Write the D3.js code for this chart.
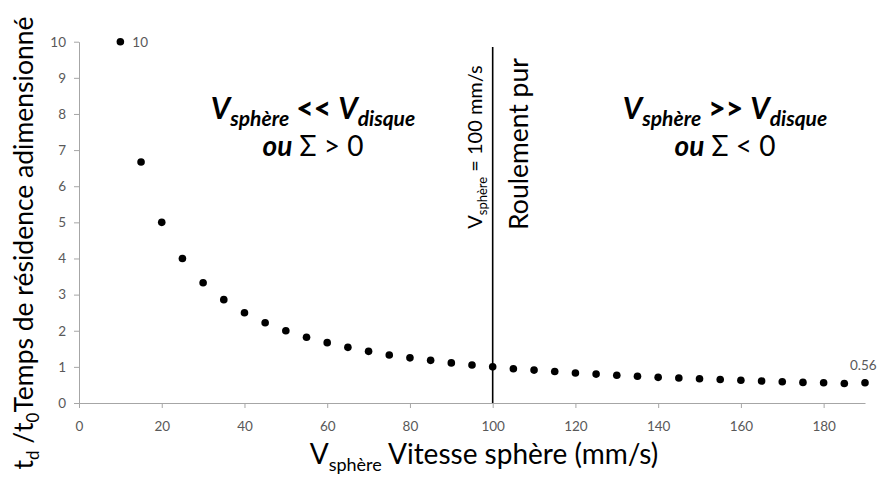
<!DOCTYPE html>
<html><head><meta charset="utf-8">
<script src="https://cdn.jsdelivr.net/npm/d3@7"></script>
<style>body{margin:0;background:#fff}svg{display:block}</style>
</head><body>
<div id="chart"></div>
<script>
const speeds = [10,15,20,25,30,35,40,45,50,55,60,65,70,75,80,85,90,95,100,105,110,115,120,125,130,135,140,145,150,155,160,165,170,175,180,185,190];
const times = [10,6.67,5,4,3.33,2.86,2.5,2.22,2,1.82,1.67,1.54,1.43,1.33,1.25,1.18,1.11,1.05,1,0.95,0.91,0.87,0.83,0.8,0.77,0.74,0.71,0.69,0.67,0.65,0.63,0.61,0.59,0.57,0.56,0.54,0.56];
const xTicks = [0,20,40,60,80,100,120,140,160,180];
const yTicks = [0,1,2,3,4,5,6,7,8,9,10];
const pointLabels = [{i:0,text:"10"},{i:36,text:"0.56"}];
const markerSpeed = 100;

const W = 877, H = 484;
const FONT = "Lato, 'Open Sans', sans-serif";
const svg = d3.select("#chart").append("svg").attr("width", W).attr("height", H);

const x = d3.scaleLinear().domain([0,190]).range([79,865]);
const y = d3.scaleLinear().domain([0,10]).range([403,41.7]);

const axisColor = "#a6a6a6", labelColor = "#595959";

const gx = svg.append("g").attr("transform", `translate(0,${y(0)})`)
  .call(d3.axisBottom(x).tickValues(xTicks).tickSize(5).tickPadding(13).tickSizeOuter(0));
const gy = svg.append("g").attr("transform", `translate(${x(0)},0)`)
  .call(d3.axisLeft(y).tickValues(yTicks).tickSize(5).tickPadding(8).tickSizeOuter(0));
[gx, gy].forEach(g => {
  g.select(".domain").attr("stroke", axisColor).attr("stroke-width", 1);
  g.selectAll(".tick line").attr("stroke", axisColor);
  g.selectAll(".tick text").attr("fill", labelColor).style("font-family", FONT).style("font-size", "13.5px");
});

// vertical marker line
svg.append("line")
  .attr("x1", x(markerSpeed)).attr("x2", x(markerSpeed))
  .attr("y1", 47).attr("y2", y(0))
  .attr("stroke", "#000").attr("stroke-width", 1.6);

// points
svg.append("g").selectAll("circle").data(speeds.map((s,i)=>({s, t: times[i]})))
  .join("circle").attr("cx", d => x(d.s)).attr("cy", d => y(d.t)).attr("r", 3.8).attr("fill", "#000");

// point labels
svg.append("text").attr("x", x(speeds[pointLabels[0].i]) + 12).attr("y", y(times[pointLabels[0].i]) + 5)
  .attr("fill", labelColor).style("font-family", FONT).style("font-size", "13.5px").text(pointLabels[0].text);
svg.append("text").attr("x", x(speeds[pointLabels[1].i]) - 15).attr("y", y(times[pointLabels[1].i]) - 13)
  .attr("fill", labelColor).style("font-family", FONT).style("font-size", "13.5px").text(pointLabels[1].text);

// axis titles
const xt = svg.append("text").attr("x", 484).attr("y", 464).attr("text-anchor", "middle")
  .style("font-family", FONT).style("font-size", "28px").attr("fill", "#000");
xt.append("tspan").text("V");
xt.append("tspan").attr("dy", 7).style("font-size", "18px").text("sphère");
xt.append("tspan").attr("dy", -7).text(" Vitesse sphère (mm/s)");

const yt = svg.append("text").attr("transform", "translate(33,243) rotate(-90)").attr("text-anchor", "middle")
  .style("font-family", FONT).style("font-size", "26.5px").attr("fill", "#000");
yt.append("tspan").text("t");
yt.append("tspan").attr("dy", 6).style("font-size", "17px").text("d");
yt.append("tspan").attr("dy", -6).text(" /t");
yt.append("tspan").attr("dy", 6).style("font-size", "17px").text("0");
yt.append("tspan").attr("dy", -6).text("Temps de résidence adimensionné");

// rotated annotations
const va = svg.append("text").attr("transform", "translate(482,147) rotate(-90)").attr("text-anchor", "middle")
  .style("font-family", FONT).style("font-size", "20px").attr("fill", "#000");
va.append("tspan").text("V");
va.append("tspan").attr("dy", 5).style("font-size", "13px").text("sphère");
va.append("tspan").attr("dy", -5).text(" = 100 mm/s");

svg.append("text").attr("transform", "translate(528,144) rotate(-90)").attr("text-anchor", "middle")
  .style("font-family", FONT).style("font-size", "26.5px").attr("fill", "#000").text("Roulement pur");

// regime labels
function regime(cx, op, sign) {
  const t1 = svg.append("text").attr("x", cx).attr("y", 119).attr("text-anchor", "middle")
    .style("font-family", FONT).style("font-weight", "bold").style("font-style", "italic")
    .style("font-size", "30px").attr("fill", "#000");
  t1.append("tspan").text("V");
  t1.append("tspan").attr("dy", 7).style("font-size", "21px").text("sphère");
  t1.append("tspan").attr("dy", -7).style("font-style", "normal").style("font-weight", "900").text(" " + op + " ");
  t1.append("tspan").text("V");
  t1.append("tspan").attr("dy", 7).style("font-size", "21px").text("disque");
  const t2 = svg.append("text").attr("x", cx).attr("y", 156).attr("text-anchor", "middle")
    .style("font-family", FONT).style("font-size", "28px").attr("fill", "#000");
  t2.append("tspan").style("font-weight", "bold").style("font-style", "italic").text("ou");
  t2.append("tspan").text(" Σ " + sign + " 0");
}
regime(313, "<<", ">");
regime(725, ">>", "<");
</script>
</body></html>
